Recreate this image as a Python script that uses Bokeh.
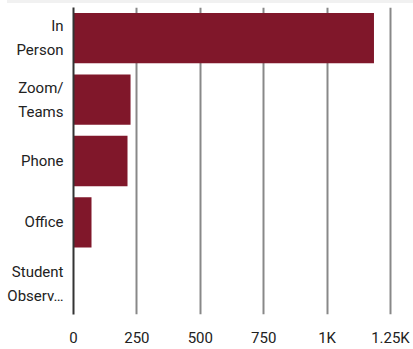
from bokeh.plotting import figure
from bokeh.models import Range1d, Div, FixedTicker
from bokeh.layouts import column
from bokeh.embed import file_html
from bokeh.resources import INLINE

categories = ["In\nPerson", "Zoom/\nTeams", "Phone", "Office", "Student\nObserv\u2026"]
values = [1185, 225, 213, 71, 0]
ticks = [0, 250, 500, 750, 1000, 1250]
tick_labels = ["0", "250", "500", "750", "1K", "1.25K"]

p = figure(width=413, height=346, y_range=list(reversed(categories)),
           x_range=Range1d(0, 1262), output_backend="svg", toolbar_location=None,
           min_border_top=4, min_border_left=73, min_border_right=20, min_border_bottom=26)

p.hbar(y=categories, right=values, height=0.82, color="#80172a", line_color=None)

FONT = "Roboto"
p.outline_line_color = None
p.background_fill_color = "white"
p.border_fill_color = "white"

p.xaxis.ticker = FixedTicker(ticks=ticks)
p.xaxis.major_label_overrides = {t: l for t, l in zip(ticks, tick_labels)}
p.xaxis.axis_line_color = None
p.xaxis.major_tick_line_color = None
p.xaxis.minor_tick_line_color = None
p.xaxis.major_label_standoff = 8
p.xaxis.major_label_text_font = FONT
p.xaxis.major_label_text_font_size = "15px"
p.xaxis.major_label_text_color = "#222222"

p.yaxis.axis_line_color = "#333333"
p.yaxis.axis_line_width = 2
p.yaxis.major_tick_line_color = None
p.yaxis.minor_tick_line_color = None
p.yaxis.major_label_standoff = 4
p.yaxis.major_label_text_font = FONT
p.yaxis.major_label_text_font_size = "15px"
p.yaxis.major_label_text_color = "#222222"
p.yaxis.major_label_text_align = "right"
p.yaxis.major_label_text_line_height = 1.33

p.xgrid.grid_line_color = "#888888"
p.xgrid.grid_line_width = 2
p.ygrid.grid_line_color = None

band = Div(text="", width=406, height=3, margin=(0, 0, 0, 7),
           styles={"background-color": "#f1f1f1"})

layout = column(band, p, spacing=0)
open("out.html", "w").write(file_html(layout, INLINE))
